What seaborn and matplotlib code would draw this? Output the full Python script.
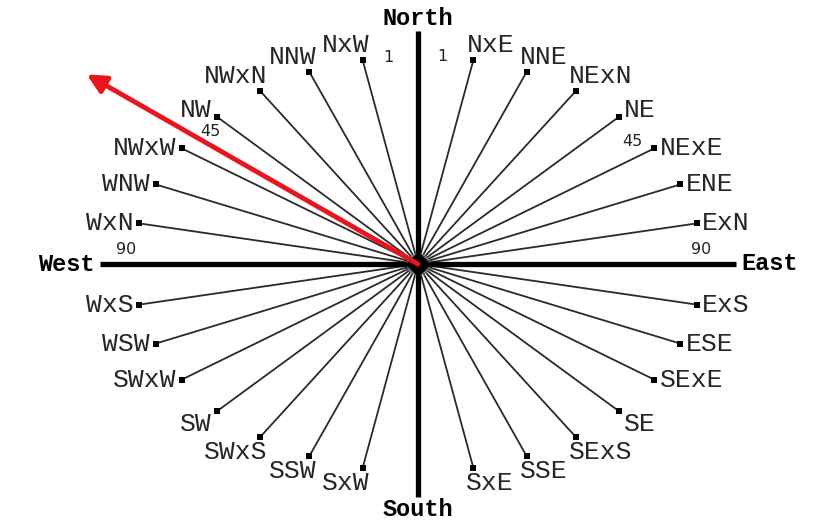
import numpy as np
import pandas as pd
import matplotlib
matplotlib.use("Agg")
import matplotlib.pyplot as plt
import seaborn as sns

# ─── compass data (bearings clockwise from north) ─────────────────────
points = ["NxE", "NNE", "NExN", "NE", "NExE", "ENE", "ExN",
          "ExS", "ESE", "SExE", "SE", "SExS", "SSE", "SxE",
          "SxW", "SSW", "SWxS", "SW", "SWxW", "WSW", "WxS",
          "WxN", "WNW", "NWxW", "NW", "NWxN", "NNW", "NxW"]
bearings = [11.25, 22.5, 33.75, 45, 56.25, 67.5, 78.75,
            101.25, 112.5, 123.75, 135, 146.25, 157.5, 168.75,
            191.25, 202.5, 213.75, 225, 236.25, 247.5, 258.75,
            281.25, 292.5, 303.75, 315, 326.25, 337.5, 348.75]

cardinals = ["North", "East", "South", "West"]
cardinal_bearings = [0, 90, 180, 270]

degree_marks = ["1", "1", "45", "45", "90", "90"]
degree_bearings = [354, 5, 311, 52, 274, 86]
degree_radius = [1.0, 1.0, 0.97, 0.96, 1.03, 1.0]

arrow_bearing = 308
arrow_length = 1.48

# ─── geometry ─────────────────────────────────────────────────────────
df = pd.DataFrame({"point": points, "bearing": bearings})
rad = np.radians(df["bearing"])
df["x"] = np.sin(rad)
df["y"] = np.cos(rad)

sns.set_theme(style="white")
fig = plt.figure(figsize=(8.19, 5.25), dpi=100)
ax = fig.add_axes([0, 0, 1, 1])
ax.set_xlim(-418 / 284, 401 / 284)
ax.set_ylim(-261 / 208, 264 / 208)
ax.axis("off")

# rays
for x, y in zip(df["x"], df["y"]):
    ax.plot([0, x], [0, y], color="#2a2a2a", lw=1.3, zorder=1)

# main axes
for b in cardinal_bearings:
    r = np.radians(b)
    ax.plot([0, 1.12 * np.sin(r)], [0, 1.12 * np.cos(r)],
            color="black", lw=3.8, solid_capstyle="butt", zorder=2)

sns.scatterplot(data=df, x="x", y="y", ax=ax, color="black", marker="s",
                s=14, linewidth=0, zorder=3, legend=False)

# point labels
lab_font = dict(family=["Liberation Mono", "DejaVu Sans Mono"],
                fontsize=19, color="#262626")
for name, x, y in zip(df["point"], df["x"], df["y"]):
    side = 1 if x > 0 else -1
    ha = "left" if side > 0 else "right"
    if abs(y) > 0.8:
        va = "bottom" if y > 0 else "top"
        off = (-5 * side, 2 * np.sign(y))
    elif abs(y) > 0.7:
        va = "baseline" if y > 0 else "top"
        off = (4 * side, 0 if y > 0 else -1)
    else:
        va = "center"
        off = (4 * side, 0)
    ax.annotate(name, (x, y), xytext=off, textcoords="offset points",
                ha=ha, va=va, **lab_font)

# cardinal labels
card_font = dict(family=["Liberation Mono", "DejaVu Sans Mono"],
                 fontsize=17, fontweight="bold", color="black")
for name, b in zip(cardinals, cardinal_bearings):
    r = np.radians(b)
    x, y = 1.12 * np.sin(r), 1.12 * np.cos(r)
    if b == 0:
        ax.annotate(name, (x, y), xytext=(0, 1), textcoords="offset points",
                    ha="center", va="bottom", **card_font)
    elif b == 180:
        ax.annotate(name, (x, y), xytext=(0, -1), textcoords="offset points",
                    ha="center", va="top", **card_font)
    elif b == 90:
        ax.annotate(name, (x, y), xytext=(4, 0), textcoords="offset points",
                    ha="left", va="center", **card_font)
    else:
        ax.annotate(name, (x, y), xytext=(-4, 0), textcoords="offset points",
                    ha="right", va="center", **card_font)

# degree marks
for txt, b, rr in zip(degree_marks, degree_bearings, degree_radius):
    r = np.radians(b)
    ax.text(rr * np.sin(r), rr * np.cos(r), txt, ha="center", va="center",
            fontsize=11.5, color="#222222", family=["DejaVu Sans"])

# centre
ax.scatter([0], [0], marker="o", s=280, color="#8a8a8a", alpha=0.6, zorder=4, linewidths=0)
ax.scatter([0], [0], marker="D", s=170, color="black", zorder=5, linewidths=0)

# red arrow
ar = np.radians(arrow_bearing)
ax.annotate("", xy=(arrow_length * np.sin(ar), arrow_length * np.cos(ar)),
            xytext=(0, 0),
            arrowprops=dict(arrowstyle="-|>", color="#e8161b", lw=3.5,
                            mutation_scale=28, shrinkA=0, shrinkB=0),
            zorder=6)

fig.savefig("out.png", dpi=100)
